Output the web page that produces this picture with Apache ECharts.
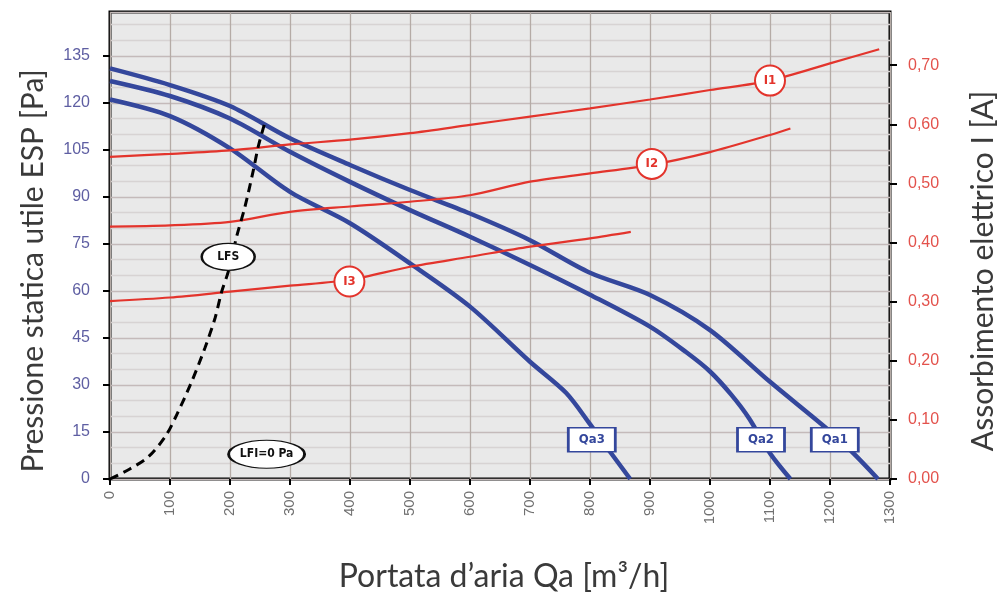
<!DOCTYPE html>
<html>
<head>
<meta charset="utf-8">
<script src="https://cdn.jsdelivr.net/npm/echarts@6/dist/echarts.min.js"></script>
<style>
html,body{margin:0;padding:0;background:#fff;}
#chart{width:1005px;height:597px;}
</style>
</head>
<body>
<div id="chart"></div>
<script>
// ---- Data (airflow Q [m3/h], static pressure P [Pa], current I [A]) ----
const qa1 = [[0,131],[100,125.7],[200,119],[300,108.7],[400,100.2],[500,92.2],[600,84.7],[700,76.2],[800,65.8],[900,58.7],[1000,47.5],[1100,31],[1200,15.2],[1240,8],[1280,0]];
const qa2 = [[0,127],[100,122.2],[200,115],[300,104.4],[400,94.8],[500,85.8],[600,77.3],[700,68.3],[800,58.8],[900,48.6],[960,40.5],[1000,34.3],[1035,27],[1065,19.4],[1100,8.2],[1134,0]];
const qa3 = [[0,121.1],[100,115.8],[200,105.5],[300,91.6],[400,81.6],[500,68.8],[600,55],[700,37.4],[760,27.5],[800,17.5],[835,8.3],[867,0]];
const i1 = [[0,0.545],[100,0.550],[200,0.556],[300,0.566],[400,0.574],[500,0.585],[600,0.599],[700,0.613],[800,0.627],[900,0.642],[1000,0.658],[1100,0.674],[1200,0.703],[1282,0.727]];
const i2 = [[0,0.427],[100,0.429],[200,0.435],[300,0.452],[400,0.461],[500,0.469],[600,0.480],[700,0.503],[800,0.517],[900,0.531],[1000,0.553],[1100,0.582],[1134,0.593]];
const i3 = [[0,0.301],[100,0.307],[200,0.317],[300,0.327],[400,0.337],[500,0.359],[600,0.376],[700,0.393],[800,0.407],[868,0.418]];
const lfs = [[0,0],[33,3.2],[64,7.1],[92,13.5],[111,20.4],[136,31],[158,41.7],[175,51.3],[186,59.7],[197,66.1],[211,77.3],[225,86.9],[239,98.6],[247,106],[257,113]];

// tick values
const pTicks = [0,15,30,45,60,75,90,105,120,135];
const iTicks = [0,0.1,0.2,0.3,0.4,0.5,0.6,0.7];

// annotation labels
const qaTags = [{name:'Qa1', value:[1208,12.5]},{name:'Qa2', value:[1085,12.5]},{name:'Qa3', value:[803,12.5]}];
const iTags = [{name:'I1', value:[1100,0.674]},{name:'I2', value:[903,0.533]},{name:'I3', value:[399,0.334]}];
const ovalTags = [{name:'LFS', value:[197,70.9], size:[53,27]},{name:'LFI=0 Pa', value:[261,7.9], size:[76,28]}];

const xTitle = 'Portata d\u2019aria Qa [m\u00b3/h]';
const yTitle = 'Pressione statica utile ESP [Pa]';
const y2Title = 'Assorbimento elettrico I [A]';

const BLUE = '#34479c', RED = '#e3342c';
const ellipse = 'path://M0,10 A10,10 0 1,0 20,10 A10,10 0 1,0 0,10 Z';

const chart = echarts.init(document.getElementById('chart'));
const tagFont = "'DejaVu Sans Condensed','Liberation Sans Narrow','DejaVu Sans',sans-serif";
const numFont = "'Liberation Sans', Arial, sans-serif";
const titleFont = "Lato, 'Open Sans', sans-serif";

chart.setOption({
  animation:false,
  backgroundColor:'#ffffff',
  grid:{left:110, right:115, top:12, bottom:118, show:true, backgroundColor:'#e9e9e9', borderColor:'#000', borderWidth:3, z:0},
  xAxis:{
    type:'value', min:0, max:1300, interval:100,
    axisLine:{show:false},
    axisTick:{show:true, length:6, lineStyle:{color:'#000', width:2}},
    axisLabel:{rotate:90, color:'#707070', fontSize:15, margin:12, fontFamily:numFont, formatter:v => String(v)},
    splitLine:{show:true, lineStyle:{color:'#b5aba6', width:1.3}}
  },
  yAxis:[
    {type:'value', position:'left', min:0, max:149, interval:15,
     axisLine:{show:false},
     axisTick:{show:true, length:7, customValues:pTicks, lineStyle:{color:'#000', width:2}},
     axisLabel:{color:'#5e5ea2', fontSize:16, margin:20, fontFamily:numFont, customValues:pTicks,
       formatter:v => (Math.abs(v % 15) < 1e-6 ? String(v) : '')},
     splitLine:{show:false}},
    {type:'value', position:'right', min:0, max:0.79, interval:0.1,
     axisLine:{show:false},
     axisTick:{show:true, length:7, customValues:iTicks, lineStyle:{color:'#000', width:2}},
     axisLabel:{color:'#e3524c', fontSize:16, margin:18, fontFamily:numFont, customValues:iTicks,
       formatter:v => (Math.abs(v*10 - Math.round(v*10)) < 1e-6 ? v.toFixed(2).replace('.', ',') : '')},
     splitLine:{show:false}},
    {type:'value', position:'left', min:0, max:149, interval:5,
     axisLine:{show:false}, axisTick:{show:false}, axisLabel:{show:false},
     splitLine:{show:true, lineStyle:{color:['#c4baba','#d7d3d3','#d7d3d3'], width:1.3}}}
  ],
  series:[
    {type:'line', name:'Qa1', data:qa1, yAxisIndex:0, smooth:0.3, symbol:'none', lineStyle:{color:BLUE, width:4.5}, z:3},
    {type:'line', name:'Qa2', data:qa2, yAxisIndex:0, smooth:0.3, symbol:'none', lineStyle:{color:BLUE, width:4.5}, z:3},
    {type:'line', name:'Qa3', data:qa3, yAxisIndex:0, smooth:0.3, symbol:'none', lineStyle:{color:BLUE, width:4.5}, z:3},
    {type:'line', name:'I1', data:i1, yAxisIndex:1, smooth:0.3, symbol:'none', lineStyle:{color:RED, width:2.2}, z:4},
    {type:'line', name:'I2', data:i2, yAxisIndex:1, smooth:0.3, symbol:'none', lineStyle:{color:RED, width:2.2}, z:4},
    {type:'line', name:'I3', data:i3, yAxisIndex:1, smooth:0.3, symbol:'none', lineStyle:{color:RED, width:2.2}, z:4},
    {type:'line', name:'LFS', data:lfs, yAxisIndex:0, smooth:0.3, symbol:'none', lineStyle:{color:'#000', width:3, type:[9,6]}, z:5},
    {type:'scatter', name:'qaTags', yAxisIndex:0, data:qaTags, symbol:'rect', symbolSize:[47,24], z:10,
     itemStyle:{color:'#fff', borderColor:BLUE, borderWidth:2, opacity:1},
     label:{show:true, position:'inside', formatter:'{b}', color:BLUE, fontSize:13, fontWeight:'bold', fontFamily:tagFont}},
    {type:'scatter', name:'iTags', yAxisIndex:1, data:iTags, symbol:'circle', symbolSize:30, z:10,
     itemStyle:{color:'#fff', borderColor:RED, borderWidth:2, opacity:1},
     label:{show:true, position:'inside', formatter:'{b}', color:RED, fontSize:13, fontWeight:'bold', fontFamily:tagFont}},
    {type:'scatter', name:'ovalTags', yAxisIndex:0, z:10,
     data:ovalTags.map(t => ({name:t.name, value:t.value, symbolSize:t.size})),
     symbol:ellipse,
     itemStyle:{color:'#fff', borderColor:'#111', borderWidth:1.8, opacity:1},
     label:{show:true, position:'inside', formatter:'{b}', color:'#111', fontSize:12, fontWeight:'bold', fontFamily:tagFont}}
  ],
  graphic:[
    {type:'text', x:504, y:577, z:20, style:{text:xTitle, fill:'#3a3a3a', font:"32px " + titleFont, textAlign:'center', textVerticalAlign:'middle'}},
    {type:'text', x:33, y:271, rotation:Math.PI/2, z:20, style:{text:yTitle, fill:'#3a3a3a', font:"30px " + titleFont, textAlign:'center', textVerticalAlign:'middle'}},
    {type:'text', x:983, y:271, rotation:Math.PI/2, z:20, style:{text:y2Title, fill:'#3a3a3a', font:"30px " + titleFont, textAlign:'center', textVerticalAlign:'middle'}}
  ]
});
</script>
</body>
</html>
